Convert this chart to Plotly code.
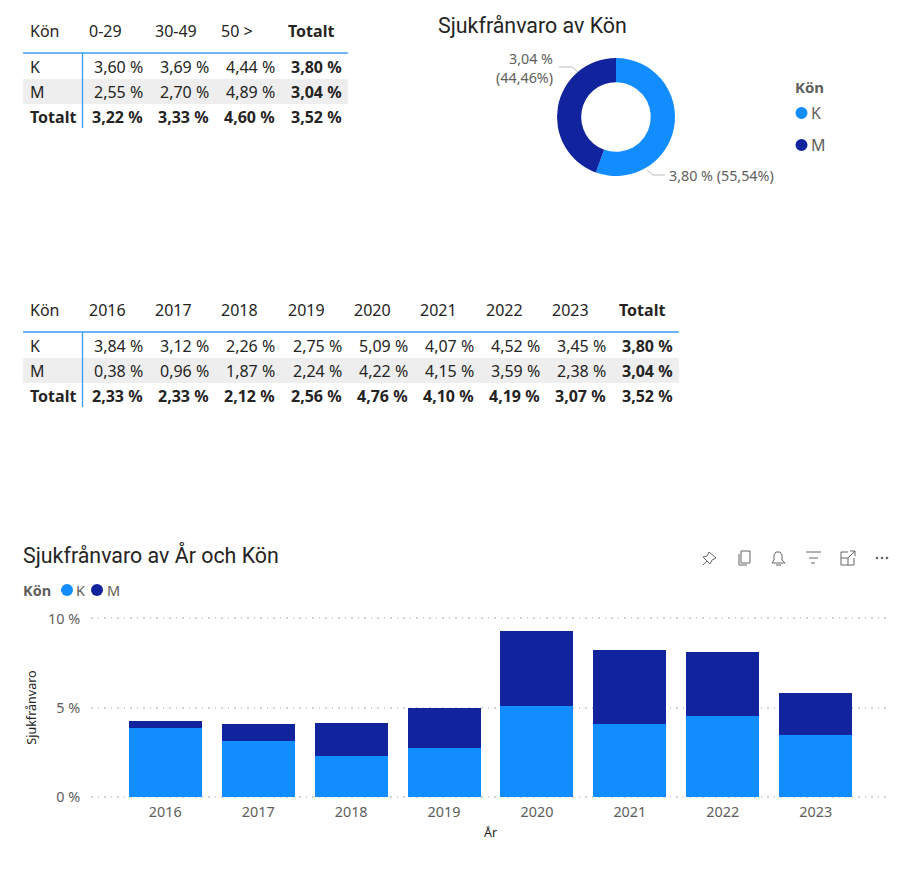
import plotly.graph_objects as go

W, H = 909, 885
BLUE, NAVY = "#118DFF", "#12239E"
FONT = "Noto Sans"
TITLE_FONT = "Roboto"

# data
age_head = ["0-29", "30-49", "50 >"]
age_k = ["3,60 %", "3,69 %", "4,44 %", "3,80 %"]
age_m = ["2,55 %", "2,70 %", "4,89 %", "3,04 %"]
age_tot = ["3,22 %", "3,33 %", "4,60 %", "3,52 %"]

years = ["2016", "2017", "2018", "2019", "2020", "2021", "2022", "2023"]
year_k_txt = ["3,84 %", "3,12 %", "2,26 %", "2,75 %", "5,09 %", "4,07 %", "4,52 %", "3,45 %", "3,80 %"]
year_m_txt = ["0,38 %", "0,96 %", "1,87 %", "2,24 %", "4,22 %", "4,15 %", "3,59 %", "2,38 %", "3,04 %"]
year_tot_txt = ["2,33 %", "2,33 %", "2,12 %", "2,56 %", "4,76 %", "4,10 %", "4,19 %", "3,07 %", "3,52 %"]

k_values = [3.84, 3.12, 2.26, 2.75, 5.09, 4.07, 4.52, 3.45]
m_values = [0.38, 0.96, 1.87, 2.24, 4.22, 4.15, 3.59, 2.38]

pie_labels = ["K", "M"]
pie_values = [3.80, 3.04]


def px(x):
    return x / W


def py(y):
    return 1 - y / H


annotations = []
shapes = []


def text(x, y, s, size=16, color="#252423", bold=False, anchor="left", font=FONT, angle=0):
    if bold:
        s = f"<b>{s}</b>"
    annotations.append(dict(
        x=px(x), y=py(y), xref="paper", yref="paper", text=s, showarrow=False,
        xanchor=anchor, yanchor="middle", borderpad=0, borderwidth=0, textangle=angle,
        font=dict(family=font, size=size, color=color),
    ))


def rect(x0, y0, x1, y1, color):
    shapes.append(dict(type="rect", xref="paper", yref="paper", x0=px(x0), x1=px(x1),
                       y0=py(y0), y1=py(y1), fillcolor=color, line_width=0, layer="below"))


def line(pts, color="#666666", width=1, closed=False):
    d = "M" + " L".join(f"{px(x):.5f},{py(y):.5f}" for x, y in pts) + (" Z" if closed else "")
    shapes.append(dict(type="path", xref="paper", yref="paper", path=d,
                       line=dict(color=color, width=width)))


def dot(x, y, r, color):
    shapes.append(dict(type="circle", xref="paper", yref="paper", x0=px(x - r), x1=px(x + r),
                       y0=py(y - r), y1=py(y + r), fillcolor=color, line_width=0))


def table(top, head, k, m, tot):
    # top = y of the header text, right edge follows the number of columns
    step = 66.2
    n = len(head) + 1
    right = 83 + step * n
    rect(23, top + 48, right, top + 73, "#EEEEEE")
    line([(23, top + 22), (right, top + 22)], "#3B9BF2", 1.3)
    line([(82.5, top + 22), (82.5, top + 97)], "#3B9BF2", 1.3)
    text(30, top, "Kön")
    for i, h in enumerate(head):
        text(89 + step * i, top, h)
    text(89 + step * len(head), top, "Totalt", bold=True)
    text(30, top + 36, "K")
    text(30, top + 61, "M")
    text(30, top + 86, "Totalt", bold=True)
    for i in range(n):
        x = 143 + step * i
        last = i == n - 1
        text(x, top + 36, k[i], bold=last, anchor="right")
        text(x, top + 61, m[i], bold=last, anchor="right")
        text(x, top + 86, tot[i], bold=True, anchor="right")


table(31, age_head, age_k, age_m, age_tot)
table(310, years, year_k_txt, year_m_txt, year_tot_txt)

# titles
text(438, 25.5, "Sjukfrånvaro av Kön", 21.4, "#252423", font=TITLE_FONT)
text(23, 555, "Sjukfrånvaro av År och Kön", 21.4, "#252423", font=TITLE_FONT)

# pie labels and legend
text(553, 58, "3,04 %", 14.3, "#605E5C", anchor="right")
text(553, 78, "(44,46%)", 14.3, "#605E5C", anchor="right")
line([(559, 67), (572, 67), (578, 72)], "#BDBDBD")
text(669, 175, "3,80 % (55,54%)", 14.3, "#605E5C")
line([(647, 170), (653, 175), (665, 175)], "#BDBDBD")
text(795, 87, "Kön", 15, "#605E5C", bold=True)
dot(801.5, 113, 6, BLUE)
text(811, 113, "K", 16, "#605E5C")
dot(801.5, 145, 6, NAVY)
text(811, 145, "M", 16, "#605E5C")

# bar legend
text(23, 590, "Kön", 14.5, "#605E5C", bold=True)
dot(67, 590, 6, BLUE)
text(76, 590, "K", 14.5, "#605E5C")
dot(97, 590, 6, NAVY)
text(107, 590, "M", 14.5, "#605E5C")

# toolbar icons
line([(703, 565), (707, 561)])
line([(709, 552), (716, 558), (712, 560), (710, 564), (703, 557), (707, 556)], closed=True)
line([(739, 554), (739, 565), (747, 565)])
line([(741, 551), (750, 551), (750, 563), (741, 563)], closed=True)
line([(772, 563), (774, 560), (774, 555), (776, 552), (780, 552), (782, 555), (782, 560), (785, 563)], closed=True)
line([(776, 565), (781, 565)])
line([(806, 552), (821, 552)])
line([(809, 558), (818, 558)])
line([(811, 563), (815, 563)])
line([(848, 552), (841, 552), (841, 565), (854, 565), (854, 558)])
line([(841, 558), (848, 558), (848, 565)])
line([(848, 558), (855, 551)])
line([(850, 551), (855, 551), (855, 556)])
for x in (877, 882, 887):
    dot(x, 558, 1.3, "#666666")

fig = go.Figure()
fig.add_trace(go.Bar(x=years, y=k_values, name="K", marker=dict(color=BLUE, line_width=0)))
fig.add_trace(go.Bar(x=years, y=m_values, name="M", marker=dict(color=NAVY, line_width=0)))
fig.add_trace(go.Pie(
    labels=pie_labels, values=pie_values, hole=0.59, sort=False, direction="clockwise",
    rotation=0, textinfo="none", marker=dict(colors=[BLUE, NAVY], line=dict(width=0)),
    domain=dict(x=[px(557), px(675)], y=[py(176), py(58)]),
))

fig.update_layout(
    width=W, height=H, margin=dict(l=0, r=0, t=0, b=0), autosize=False,
    plot_bgcolor="white", paper_bgcolor="white", showlegend=False,
    barmode="stack", bargap=0.214, annotations=annotations, shapes=shapes,
    font=dict(family=FONT),
)
fig.update_xaxes(
    domain=[px(91), px(890)], range=[-0.8, 7.8], showgrid=False, zeroline=False, showline=False,
    ticks="", tickfont=dict(size=14.4, color="#605E5C"), ticklabelstandoff=3,
    automargin=False,
    title=dict(text="År", font=dict(size=12.5, color="#252423"), standoff=8),
    anchor="y",
)
fig.update_yaxes(
    domain=[py(798.3), py(616.7)], range=[-0.1, 10.1], tickvals=[0, 5, 10],
    ticktext=["0 %", "5 %", "10 %"], zeroline=False, showline=False,
    ticks="outside", ticklen=7, tickcolor="white", automargin=False,
    showgrid=True, gridcolor="#D2D2D2", griddash="1.5px,5px", gridwidth=1.5,
    tickfont=dict(size=14.4, color="#605E5C"),
    title=dict(text="Sjukfrånvaro", font=dict(size=12.5, color="#252423"), standoff=8),
    anchor="x",
)

fig.write_html("out.html", config=dict(displayModeBar=False),
               post_script="document.body.style.margin='0';")
